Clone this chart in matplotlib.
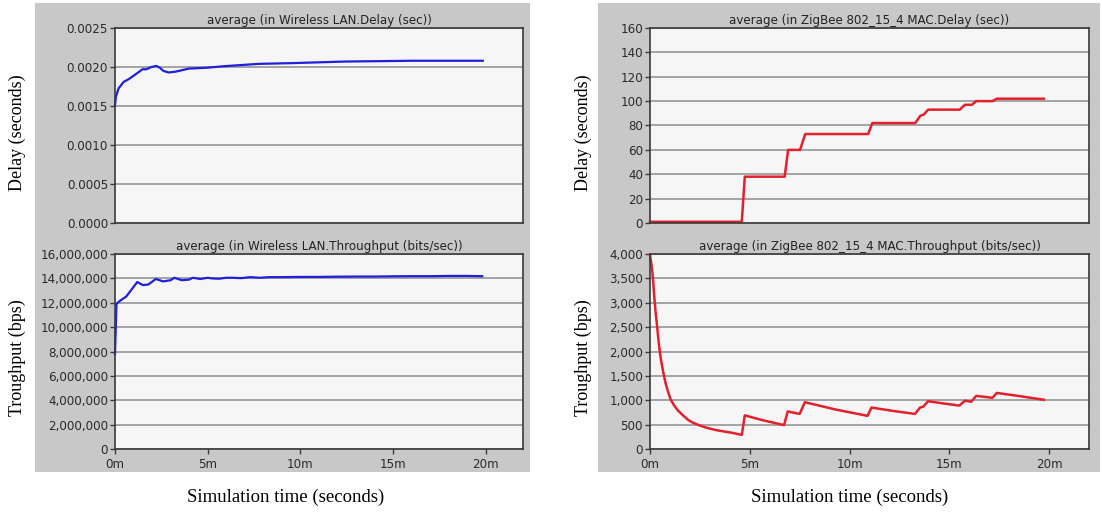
import matplotlib
matplotlib.use('Agg')
import matplotlib.pyplot as plt
from matplotlib.patches import Rectangle
from matplotlib.ticker import FuncFormatter, MultipleLocator

# ---------------- data (time in minutes) ----------------
wlan_delay_t = [0.0, 0.05, 0.19, 0.47, 0.74, 1.12, 1.49, 1.68, 1.96, 2.23, 2.42, 2.61, 2.89,
                3.26, 3.63, 4.0, 4.93, 5.87, 7.73, 9.59, 12.4, 16.1, 19.83]
wlan_delay_v = [0.00151, 0.00162, 0.001725, 0.00181, 0.001844, 0.001908, 0.001972, 0.00197,
                0.0020, 0.002014, 0.00199, 0.00195, 0.00193, 0.00194, 0.00196, 0.00198,
                0.00199, 0.00201, 0.00204, 0.00205, 0.00207, 0.00208, 0.00208]

wlan_thr_t = [0.0, 0.08, 0.15, 0.3, 0.6, 0.9, 1.2, 1.5, 1.8, 2.2, 2.6, 3.0, 3.2, 3.6, 4.0,
              4.2, 4.6, 5.0, 5.2, 5.6, 6.0, 6.3, 6.8, 7.3, 7.8, 8.3, 9.0, 10.0, 11.0, 12.0,
              13.0, 14.0, 15.0, 16.0, 17.0, 18.0, 19.0, 19.8]
wlan_thr_v = [7.8e6, 11.9e6, 12.0e6, 12.2e6, 12.5e6, 13.1e6, 13.7e6, 13.45e6, 13.5e6,
              13.95e6, 13.75e6, 13.85e6, 14.05e6, 13.85e6, 13.9e6, 14.05e6, 13.95e6,
              14.05e6, 14.0e6, 13.97e6, 14.05e6, 14.05e6, 14.02e6, 14.1e6, 14.05e6, 14.1e6,
              14.1e6, 14.12e6, 14.12e6, 14.14e6, 14.15e6, 14.15e6, 14.17e6, 14.18e6,
              14.18e6, 14.2e6, 14.2e6, 14.18e6]

zb_delay_t = [0.0, 4.6, 4.75, 6.75, 6.92, 7.52, 7.78, 10.93, 11.14, 13.29, 13.55, 13.72,
              13.94, 15.52, 15.78, 16.13, 16.35, 17.16, 17.38, 19.74]
zb_delay_v = [1, 1, 38, 38, 60, 60, 73, 73, 82, 82, 88, 89, 93, 93, 97, 97, 100, 100, 102, 102]

zb_thr_t = [0.0, 0.05, 0.1, 0.14, 0.2, 0.27, 0.34, 0.42, 0.48, 0.55, 0.65, 0.78, 0.9, 1.03,
            1.2, 1.38, 1.6, 1.9, 2.1, 2.41, 2.8, 3.28, 3.7, 4.14, 4.6, 4.75,
            5.7, 6.72, 6.9, 7.5, 7.76, 9.3, 10.9, 11.1, 12.2, 13.28, 13.53, 13.7, 13.93,
            14.7, 15.5, 15.78, 16.1, 16.35, 17.16, 17.38, 18.6, 19.74]
zb_thr_v = [3980, 3850, 3700, 3540, 3200, 2850, 2580, 2250, 2030, 1830, 1600, 1350, 1180,
            1020, 900, 800, 710, 600, 550, 495, 440, 390, 360, 330, 290, 690,
            585, 490, 770, 720, 960, 810, 680, 850, 780, 720, 850, 870, 980,
            935, 890, 990, 970, 1090, 1050, 1150, 1080, 1010]

x_ticks = [0, 5, 10, 15, 20]
x_labels = ['0m', '5m', '10m', '15m', '20m']

titles = ['average (in Wireless LAN.Delay (sec))',
          'average (in Wireless LAN.Throughput (bits/sec))',
          'average (in ZigBee 802_15_4 MAC.Delay (sec))',
          'average (in ZigBee 802_15_4 MAC.Throughput (bits/sec))']

# ---------------- layout ----------------
W, H = 1102, 513
fig = plt.figure(figsize=(W / 100, H / 100), dpi=100)
fig.patch.set_facecolor('white')


def fx(px):
    return px / W


def fy(py):
    return 1 - py / H


for x0, x1 in [(35, 530), (598, 1100)]:
    fig.patches.append(Rectangle((fx(x0), fy(472)), fx(x1) - fx(x0), fy(3) - fy(472),
                                 transform=fig.transFigure, facecolor='#c8c8c8',
                                 edgecolor='none', zorder=-10))


def make_ax(xl, xr, yt, yb):
    ax = fig.add_axes([fx(xl), fy(yb), fx(xr) - fx(xl), fy(yt) - fy(yb)])
    ax.set_zorder(2)
    return ax


def style(ax, ylim, ystep, fmt, title, show_x):
    ax.set_facecolor('#f6f6f6')
    ax.set_xlim(0, 22)
    ax.set_ylim(*ylim)
    ax.yaxis.set_major_locator(MultipleLocator(ystep))
    ax.yaxis.set_major_formatter(FuncFormatter(fmt))
    ax.set_xticks(x_ticks)
    ax.set_xticklabels(x_labels)
    ax.grid(axis='y', color='#959595', lw=1.2)
    ax.set_axisbelow(True)
    for s in ax.spines.values():
        s.set_color('#3a3a3a')
        s.set_linewidth(1.2)
    ax.tick_params(axis='both', colors='#3a3a3a', labelcolor='#2a2a2a', labelsize=8.6,
                   length=3.5, width=1, pad=1.5)
    ax.tick_params(axis='x', pad=3)
    if not show_x:
        ax.tick_params(axis='x', bottom=False, labelbottom=False)
    ax.set_title(title, fontsize=8.6, color='#222222', pad=3)


ax1 = make_ax(115, 523, 28, 223)
ax2 = make_ax(115, 523, 254, 449)
ax3 = make_ax(650, 1089, 28, 223)
ax4 = make_ax(650, 1089, 254, 449)

style(ax1, (0, 0.0025), 0.0005, lambda v, p: f'{v:.4f}', titles[0], False)
style(ax2, (0, 16e6), 2e6, lambda v, p: f'{v:,.0f}', titles[1], True)
style(ax3, (0, 160), 20, lambda v, p: f'{v:.0f}', titles[2], False)
style(ax4, (0, 4000), 500, lambda v, p: f'{v:,.0f}', titles[3], True)

blue = '#1f1fdc'
red = '#e3202c'
ax1.plot(wlan_delay_t, wlan_delay_v, color=blue, lw=1.6, clip_on=False)
ax2.plot(wlan_thr_t, wlan_thr_v, color=blue, lw=1.6, clip_on=False)
ax3.plot(zb_delay_t, zb_delay_v, color=red, lw=1.8, clip_on=False)
ax4.plot(zb_thr_t, zb_thr_v, color=red, lw=1.8, clip_on=False)

serif = 'Liberation Serif'
for xpos in (17, 583):
    fig.text(fx(xpos), fy(133), 'Delay (seconds)', rotation=90, ha='center', va='center',
             family=serif, fontsize=13, zorder=5)
    fig.text(fx(xpos), fy(358), 'Troughput (bps)', rotation=90, ha='center', va='center',
             family=serif, fontsize=13, zorder=5)
fig.text(fx(286), fy(497), 'Simulation time (seconds)', ha='center', va='center',
         family=serif, fontsize=13.5)
fig.text(fx(850), fy(497), 'Simulation time (seconds)', ha='center', va='center',
         family=serif, fontsize=13.5)

fig.savefig('out.png', dpi=100, facecolor='white')
